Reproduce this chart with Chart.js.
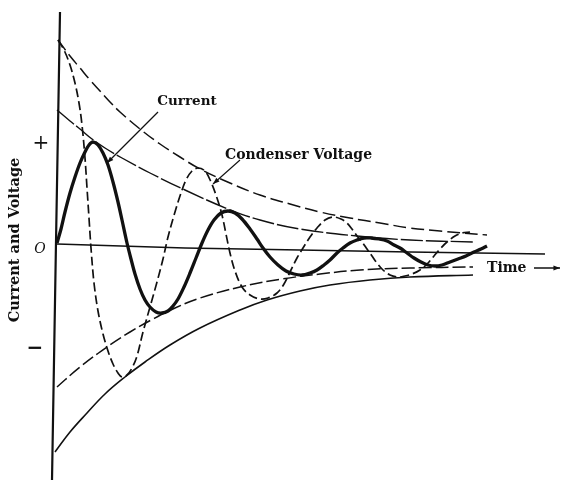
<!DOCTYPE html>
<html lang="en">
<head>
    <meta charset="UTF-8">
    <title>Current and Voltage</title>
    <style>
        html, body { margin: 0; padding: 0; background: #fff; }
        #chart { display: block; }
    </style>
</head>
<body>
    <canvas id="chart" width="564" height="484"></canvas>

    <script src="https://cdn.jsdelivr.net/npm/chart.js"></script>
    <script>
        // time and value in arbitrary units, origin at "O", value + upward
        const currentT = [0, 4, 8, 13, 18, 23, 28, 32, 36, 41, 46, 51, 56, 61, 65, 70, 74, 78, 83, 88, 93, 99, 105, 111, 116, 121, 127, 133, 139, 145, 151, 157, 164, 171, 178, 185, 193, 200, 206, 213, 221, 229, 237, 245, 253, 260, 267, 273, 280, 286, 293, 300, 307, 314, 322, 330, 337, 343, 350, 357, 364, 371, 378, 385, 393, 401, 409, 417, 424, 430];
        const currentV = [0, 14, 31, 50, 66, 80, 91, 98, 101, 98, 90, 78, 61, 41, 23, 0, -16, -31, -46, -57, -64, -69, -70, -68, -63, -56, -44, -30, -15, 0, 13, 23, 30, 32, 30, 24, 14, 4, -5, -14, -22, -28, -31, -32, -30, -27, -22, -17, -10, -5, 0, 3, 5, 5, 4, 2, -2, -5, -10, -15, -19, -22, -23, -22, -19, -16, -13, -9, -6, -3];

        const voltageT = [1, 7, 13, 18, 22, 25, 28, 30, 32, 34, 37, 41, 46, 51, 56, 61, 65, 70, 75, 80, 86, 93, 100, 106, 111, 118, 124, 129, 135, 141, 148, 154, 160, 165, 169, 173, 178, 185, 193, 203, 211, 220, 227, 233, 240, 246, 253, 260, 268, 276, 284, 290, 295, 300, 305, 310, 315, 320, 326, 333, 341, 348, 355, 363, 370, 377, 383, 390, 398, 405, 413];
        const voltageV = [203, 193, 178, 160, 140, 118, 85, 55, 25, -5, -40, -68, -91, -108, -121, -130, -134, -132, -125, -113, -89, -64, -39, -16, 6, 31, 50, 63, 72, 75, 72, 61, 45, 28, 9, -10, -28, -44, -52, -56, -55, -50, -41, -29, -15, -5, 6, 15, 23, 26, 24, 20, 14, 7, 1, -6, -13, -20, -27, -32, -34, -33, -31, -27, -21, -13, -6, 1, 7, 10, 11];

        // envelopes
        const voltTopT = [1, 13, 23, 33, 43, 53, 63, 83, 103, 123, 143, 173, 203, 233, 263, 293, 323, 353, 383, 430];
        const voltTopV = [203, 187, 175, 163, 152, 141, 131, 114, 99, 86, 74, 60, 48, 39, 31, 25, 20, 15, 12, 8];
        const currTopT = [0, 13, 23, 35, 48, 65, 93, 128, 171, 203, 243, 300, 353, 416];
        const currTopV = [133, 122, 114, 104, 95, 85, 70, 53, 34, 23, 14, 7, 3, 1];
        const currBotT = [0, 23, 50, 73, 96, 118, 143, 183, 225, 263, 303, 353, 416];
        const currBotV = [-144, -124, -104, -89, -76, -65, -55, -44, -36, -31, -27, -25, -24];
        const voltBotT = [-2, 13, 30, 48, 68, 88, 113, 143, 183, 210, 243, 273, 313, 353, 416];
        const voltBotV = [-209, -189, -170, -151, -134, -119, -102, -85, -67, -57, -48, -42, -37, -34, -32];

        // axes as drawn in the figure
        const timeAxisT = [0, 128, 243, 353, 488];
        const timeAxisV = [-1, -5, -7, -9, -11];
        const valueAxisT = [3, -1, -5];
        const valueAxisV = [231, 1, -237];

        const signLabels = ['+', 'O', '\u2212'];
        const signValues = [99, -6, -106];

        const ink = '#111';

        function pts(ts, vs) {
            return ts.map((t, i) => ({ x: t, y: vs[i] }));
        }

        function curve(ts, vs, width, dash, tension) {
            return {
                data: pts(ts, vs),
                borderColor: ink,
                borderWidth: width,
                borderDash: dash,
                pointRadius: 0,
                fill: false,
                tension: tension
            };
        }

        function arrow(ctx, x1, y1, x2, y2, size) {
            const a = Math.atan2(y2 - y1, x2 - x1);
            ctx.beginPath();
            ctx.moveTo(x1, y1);
            ctx.lineTo(x2, y2);
            ctx.stroke();
            ctx.beginPath();
            ctx.moveTo(x2, y2);
            ctx.lineTo(x2 - size * Math.cos(a - 0.35), y2 - size * Math.sin(a - 0.35));
            ctx.lineTo(x2 - size * Math.cos(a + 0.35), y2 - size * Math.sin(a + 0.35));
            ctx.closePath();
            ctx.fill();
        }

        const labelPlugin = {
            id: 'labels',
            afterDatasetsDraw(chart) {
                const ctx = chart.ctx;
                const px = t => chart.scales.x.getPixelForValue(t);
                const py = v => chart.scales.y.getPixelForValue(v);
                ctx.save();
                ctx.fillStyle = ink;
                ctx.strokeStyle = ink;
                ctx.textBaseline = 'middle';

                ctx.font = 'bold 13.5px "DejaVu Serif"';
                ctx.textAlign = 'center';
                ctx.fillText('Current', px(130), py(142));
                ctx.textAlign = 'left';
                ctx.font = 'bold 14px "DejaVu Serif"';
                ctx.fillText('Condenser Voltage', px(168), py(88));
                ctx.fillText('Time', px(430), py(-25));

                ctx.lineWidth = 1.2;
                arrow(ctx, px(101), py(131), px(50), py(80), 7);
                arrow(ctx, px(183), py(83), px(156), py(59), 7);
                ctx.lineWidth = 1.5;
                arrow(ctx, px(477), py(-25), px(503), py(-25), 7);

                // sign marks beside the value axis
                ctx.textAlign = 'center';
                ctx.font = '20px "DejaVu Serif"';
                ctx.fillText(signLabels[0], px(-16), py(signValues[0]));
                ctx.font = 'italic 14px "DejaVu Serif"';
                ctx.fillText(signLabels[1], px(-17), py(signValues[1]));
                ctx.font = 'bold 20px "DejaVu Sans"';
                ctx.fillText(signLabels[2], px(-22), py(signValues[2]));

                // value axis title
                ctx.translate(px(-42), py(3));
                ctx.rotate(-Math.PI / 2);
                ctx.font = 'bold 14.5px "DejaVu Serif"';
                ctx.fillText('Current and Voltage', 0, 0);
                ctx.restore();
            }
        };

        new Chart(document.getElementById('chart'), {
            type: 'line',
            data: {
                datasets: [
                    curve(valueAxisT, valueAxisV, 2.2, [], 0),
                    curve(timeAxisT, timeAxisV, 1.3, [], 0),
                    curve(voltTopT, voltTopV, 1.5, [13, 5], 0.4),
                    curve(currTopT, currTopV, 1.4, [22, 3], 0.4),
                    curve(currBotT, currBotV, 1.5, [13, 4], 0.4),
                    curve(voltBotT, voltBotV, 1.6, [], 0.4),
                    curve(voltageT, voltageV, 1.7, [9, 4], 0.35),
                    curve(currentT, currentV, 3.3, [], 0.35)
                ]
            },
            options: {
                responsive: false,
                animation: false,
                layout: { padding: 0 },
                scales: {
                    x: { type: 'linear', display: false, min: -57, max: 507 },
                    y: { type: 'linear', display: false, min: -241, max: 243 }
                },
                plugins: {
                    legend: { display: false },
                    tooltip: { enabled: false }
                }
            },
            plugins: [labelPlugin]
        });
    </script>
</body>
</html>
